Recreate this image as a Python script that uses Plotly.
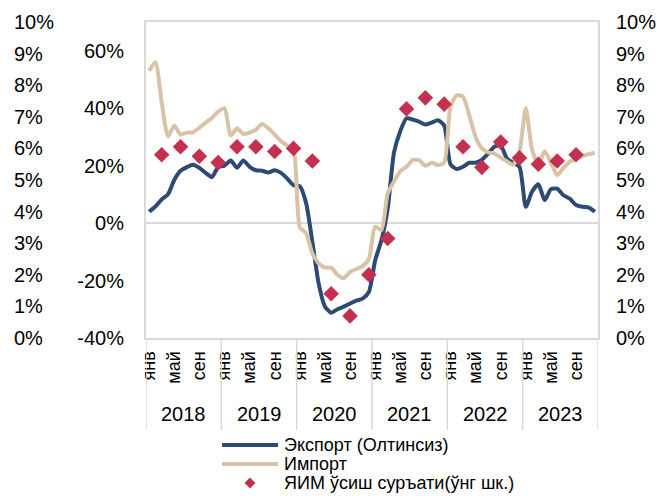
import plotly.graph_objects as go

years = [2018, 2019, 2020, 2021, 2022, 2023]
month_labels = ["янв", "май", "сен"]
month_label_pos = [0, 4, 8]
inner_ticks = [-40, -20, 0, 20, 40, 60]
outer_ticks = list(range(0, 11))

series_names = ["Экспорт (Олтинсиз)", "Импорт", "ЯИМ ўсиш суръати(ўнг шк.)"]

export = [
    4.0, 5.8, 8.2, 10.0, 15.0, 18.2, 19.5, 20.3, 19.2, 17.5, 16.0, 19.5,
    20.0, 21.8, 19.3, 21.8, 19.6, 18.4, 18.2, 17.6, 18.4, 17.5, 15.5, 13.2,
    12.8, 7.0, -6.5, -21.0, -29.0, -31.2, -30.0, -29.1, -28.0, -27.0, -26.3, -24.0,
    -13.0, -6.0, 5.0, 24.5, 32.0, 36.5, 36.0, 35.3, 34.3, 35.0, 35.8, 34.0,
    20.5, 18.8, 19.6, 21.0, 21.0, 22.0, 24.2, 26.6, 27.0, 22.5, 21.0, 19.6,
    5.7, 11.0, 13.5, 8.0, 11.8, 12.0, 9.7, 8.5, 6.3, 5.7, 5.5, 4.0,
]

imports = [
    53.0, 56.0, 42.0, 30.2, 34.0, 30.8, 31.5, 31.6, 33.2, 35.0, 36.6, 38.8,
    40.0, 30.5, 33.0, 31.0, 31.5, 32.5, 34.5, 33.0, 30.8, 28.5, 27.0, 25.4,
    -1.5, -3.5, -10.5, -14.0, -15.5, -15.5, -18.0, -19.2, -17.0, -16.0, -15.0, -12.5,
    -1.3, -2.4, 10.3, 14.5, 18.0, 19.6, 22.0, 21.9, 20.0, 21.0, 20.2, 21.0,
    40.5, 44.5, 44.0, 37.5, 30.0, 26.0, 24.6, 24.2, 22.8, 21.5, 20.3, 25.0,
    40.0, 25.5, 20.5, 25.0, 21.0, 16.7, 19.2, 21.3, 22.5, 23.3, 24.0, 24.5,
]

gdp = [5.8, 6.05, 5.75, 5.55, 6.05, 6.05, 5.9, 6.0, 5.6, 1.4, 0.7, 2.0,
       3.15, 7.25, 7.6, 7.4, 6.05, 5.4, 6.2, 5.7, 5.5, 5.6, 5.8]

months = list(range(len(export)))
gdp_x = [3 * q + 2 for q in range(len(gdp))]

FONT = "Liberation Sans, Arial, sans-serif"
GRAY = "#D9D9D9"
C_EXP = "#2C4A74"
C_IMP = "#D8C3A6"
C_GDP = "#C4304F"
W, H = 661, 496

fig = go.Figure()
fig.add_trace(go.Scatter(x=months, y=export, mode="lines", name=series_names[0],
                         line=dict(color=C_EXP, width=4, shape="spline", smoothing=0.6)))
fig.add_trace(go.Scatter(x=months, y=imports, mode="lines", name=series_names[1],
                         line=dict(color=C_IMP, width=4, shape="spline", smoothing=0.6)))
fig.add_trace(go.Scatter(x=gdp_x, y=gdp, mode="markers", name=series_names[2],
                         yaxis="y2",
                         marker=dict(symbol="diamond", size=12, color=C_GDP)))
fig.add_trace(go.Scatter(x=[None], y=[None], yaxis="y3", showlegend=False))

tickvals, ticktext = [], []
for k, _ in enumerate(years):
    for p, lab in zip(month_label_pos, month_labels):
        tickvals.append(12 * k + p)
        ticktext.append(lab)

ybot = 1 - 338 / H
ytop = 1 - 22 / H

shapes = []
for k in range(len(years) + 1):
    shapes.append(dict(type="line", xref="x", yref="paper", x0=12 * k - 0.5, x1=12 * k - 0.5,
                       y0=ybot, y1=1 - 430 / H, line=dict(color=GRAY, width=1.5)))

annotations = []
for k, yr in enumerate(years):
    annotations.append(dict(x=12 * k + 5.5, xref="x", y=1 - 414 / H, yref="paper",
                            yanchor="middle", xanchor="center",
                            text=str(yr), showarrow=False, font=dict(size=20, color="#000")))

# legend (drawn in paper space)
leg_rows = [445, 464, 483]
lx0, lx1, ltx = 222 / W, 278 / W, 282 / W
for i, (name, color) in enumerate(zip(series_names, [C_EXP, C_IMP, C_GDP])):
    yy = 1 - leg_rows[i] / H
    if i < 2:
        shapes.append(dict(type="line", xref="paper", yref="paper", x0=lx0, x1=lx1, y0=yy, y1=yy,
                           line=dict(color=color, width=4)))
    else:
        cx, cy, dx, dy = 250 / W, yy, 5.5 / W, 5.5 / H
        shapes.append(dict(type="path", xref="paper", yref="paper",
                           path=f"M {cx - dx} {cy} L {cx} {cy + dy} L {cx + dx} {cy} L {cx} {cy - dy} Z",
                           fillcolor=color, line=dict(width=0)))
    annotations.append(dict(x=ltx, y=yy, xref="paper", yref="paper", xanchor="left",
                            yanchor="middle", text=name, showarrow=False,
                            font=dict(size=18, color="#000")))

fig.update_layout(
    width=W, height=H, autosize=False, showlegend=False,
    margin=dict(l=0, r=0, t=0, b=0, pad=0, autoexpand=False),
    paper_bgcolor="white", plot_bgcolor="white",
    font=dict(family=FONT, size=19, color="#000"),
    xaxis=dict(domain=[146 / W, 598 / W], range=[-0.5, 71.5], automargin=False,
               tickvals=tickvals, ticktext=ticktext, tickangle=-90,
               tickfont=dict(size=18, color="#000"), showgrid=False, zeroline=False,
               showline=True, mirror=True, linecolor=GRAY, linewidth=2,
               ticks="outside", ticklen=4, tickcolor="rgba(0,0,0,0)"),
    yaxis=dict(domain=[ybot, ytop], range=[-40, 70], automargin=False,
               tickvals=inner_ticks, ticktext=[f"{v}%" for v in inner_ticks],
               tickfont=dict(size=20, color="#000"),
               showgrid=False, zeroline=True, zerolinecolor=GRAY,
               zerolinewidth=2, showline=True, mirror=True, linecolor=GRAY, linewidth=2,
               ticks="outside", ticklen=16, tickcolor="rgba(0,0,0,0)"),
    yaxis2=dict(overlaying="y", side="right", anchor="x", range=[0, 10], automargin=False,
                tickvals=outer_ticks, ticktext=[f"{v}%" for v in outer_ticks],
                tickfont=dict(size=20, color="#000"),
                showgrid=False, zeroline=False, showline=False,
                ticks="outside", ticklen=13, tickcolor="rgba(0,0,0,0)"),
    yaxis3=dict(overlaying="y", side="right", anchor="free", position=0.0, range=[0, 10],
                automargin=False,
                tickvals=outer_ticks, ticktext=[f"{v}%" for v in outer_ticks],
                tickfont=dict(size=20, color="#000"),
                showgrid=False, zeroline=False, showline=False,
                ticks="outside", ticklen=9, tickcolor="rgba(0,0,0,0)"),
    shapes=shapes,
    annotations=annotations,
)

fig.write_html("out.html", config={"displayModeBar": False},
               post_script="document.body.style.margin='0';document.body.style.overflow='hidden';")
